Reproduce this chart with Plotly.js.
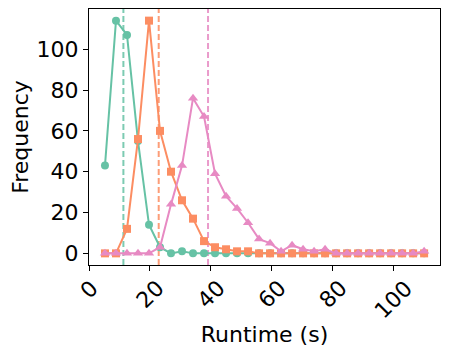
<!DOCTYPE html>
<html>
<head>
<meta charset="utf-8">
<script src="https://cdn.plot.ly/plotly-3.0.1.min.js"></script>
<style>
  html, body { margin: 0; padding: 0; background: #fff; }
  #chart { width: 449px; height: 357px; }
</style>
</head>
<body>
<div id="chart"></div>
<script>
// bin centres (s), 30 bins
var binStart = 5.25;
var binWidth = 3.615;
var runtime = [];
for (var i = 0; i < 30; i++) runtime.push(+(binStart + i * binWidth).toFixed(3));

// frequency per bin
var freqGreen  = [43, 114, 107, 55, 14, 3, 0, 1, 0, 0, 0, 0, 0, 0, 0, 0, 0, 0, 0, 0, 0, 0, 0, 0, 0, 0, 0, 0, 0, 0];
var freqOrange = [0, 0, 12, 56, 114, 60, 40, 26, 17, 6, 3, 2, 1, 1, 0, 0, 0, 0, 0, 0, 0, 0, 0, 0, 0, 0, 0, 0, 0, 0];
var freqPink   = [0, 0, 0, 0, 0, 3, 24, 43, 76, 67, 39, 28, 22, 15, 7, 5, 1, 4, 2, 1, 2, 0, 0, 0, 0, 0, 0, 0, 0, 1];

// mean runtime marks (dashed lines)
var means = [11.3, 22.9, 39.1];

// x tick labels (drawn rotated, centred under the tick like matplotlib)
var xTickVals = [0, 20, 40, 60, 80, 100];
var xTickText = ["0", "20", "40", "60", "80", "100"];

var colors = ["#66c2a5", "#fc8d62", "#e78ac3"];
var symbols = ["circle", "square", "triangle-up"];
var sizes = [8, 8, 9];
var series = [freqGreen, freqOrange, freqPink];

var data = series.map(function(ys, k){
  return {
    x: runtime, y: ys, mode: "lines+markers", type: "scatter",
    line: {color: colors[k], width: 2},
    marker: {color: colors[k], symbol: symbols[k], size: sizes[k]},
    showlegend: false, cliponaxis: false
  };
});

var shapes = means.map(function(m, k){
  return {type: "line", xref: "x", yref: "paper", x0: m, x1: m, y0: 0, y1: 1,
    line: {color: colors[k], width: 2, dash: "6px,3px"}, opacity: 0.85, layer: "below"};
});

var font = {family: "DejaVu Sans, sans-serif", size: 22, color: "#000"};

var annotations = xTickVals.map(function(v, k){
  return {x: v, y: 0, xref: "x", yref: "paper", text: xTickText[k],
    showarrow: false, textangle: -45, xanchor: "center", yanchor: "top",
    yshift: -9, font: font, borderpad: 0};
});

var layout = {
  width: 449, height: 357,
  margin: {l: 89, r: 9, t: 9, b: 92},
  paper_bgcolor: "#fff", plot_bgcolor: "#fff",
  font: font,
  showlegend: false,
  shapes: shapes,
  annotations: annotations,
  xaxis: {
    range: [0, 115.3], tickvals: xTickVals, showticklabels: false,
    ticks: "outside", ticklen: 5, tickwidth: 1, tickcolor: "#000",
    showline: true, linecolor: "#000", linewidth: 1, mirror: true,
    showgrid: false, zeroline: false, automargin: false,
    title: {text: "Runtime (s)", font: font, standoff: 56}
  },
  yaxis: {
    range: [-5.7, 119.7], tick0: 0, dtick: 20,
    ticks: "outside", ticklen: 5, tickwidth: 1, tickcolor: "#000",
    showline: true, linecolor: "#000", linewidth: 1, mirror: true,
    showgrid: false, zeroline: false, automargin: false,
    tickfont: font,
    title: {text: "Frequency", font: font, standoff: 1}
  }
};

Plotly.newPlot("chart", data, layout, {displayModeBar: false, staticPlot: true});
</script>
</body>
</html>
